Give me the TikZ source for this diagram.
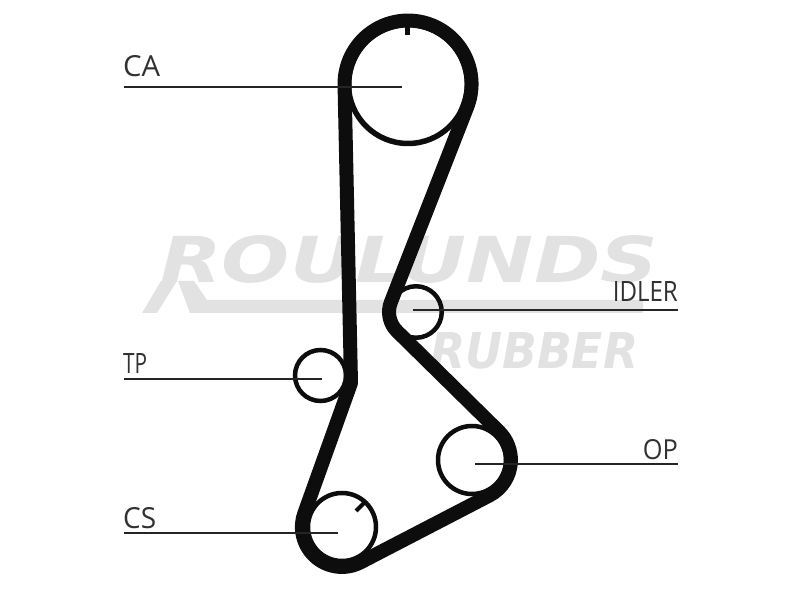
\documentclass[tikz,border=0pt]{standalone}
\usepackage{fontspec}
\setmainfont{Open Sans}
\newfontfamily\logofont{DejaVu Sans}
\usepackage{tikz}
\usetikzlibrary{positioning}
\definecolor{logogray}{gray}{0.885}
\definecolor{beltblack}{gray}{0.05}
\newcommand{\tagtext}[3]{\resizebox{#1pt}{#2pt}{#3}}
\tikzstyle{pulley} = [circle, line width=4.5pt, draw=beltblack, inner sep=0pt, outer sep=0pt]
\tikzstyle{belt} = [line width=14pt, draw=beltblack, line join=round]
\tikzstyle{leader} = [line width=2.2pt, draw=beltblack!90]
\tikzstyle{tag} = [font=\fontsize{21}{21}\selectfont, text=beltblack!85, inner sep=0pt]
\tikzstyle{logo} = [text=logogray, inner sep=0pt, font=\logofont\bfseries\itshape]

\begin{document}
\begin{tikzpicture}[x=1pt, y=1pt]
	\useasboundingbox (0,0) rectangle (800,600);
	% watermark
	\node (Rowlunds) [logo, anchor=south west] at (160,316) {\resizebox{498pt}{47pt}{ROULUNDS}};
	\node (Rubber) [logo, anchor=south west] at (430,231) {\resizebox{208pt}{36pt}{RUBBER}};
	\fill[logogray] (161,319) -- (177,319) -- (157,287) -- (142,287) -- cycle;
	\fill[logogray] (178,319) -- (194,319) -- (207,300) -- (643,300) -- (643,287) -- (190,287) -- cycle;
	% pulleys
	\node (CApulley) [pulley, line width=5.5pt, minimum size=119pt] at (408,516) {};
	\node (TPpulley) [pulley, minimum size=51pt] at (320.5,224.5) {};
	\node (IDpulley) [pulley, minimum size=51.5pt] at (416,288) {};
	\node (OPpulley) [pulley, minimum size=68pt] at (472,140) {};
	\node (CSpulley) [pulley, minimum size=68pt] at (342,73) {};
	% timing marks
	\coordinate (CAmarkA) at (407,578);
	\coordinate (CAmarkB) at (407,565);
	\coordinate (CSmarkA) at (364,97);
	\coordinate (CSmarkB) at (356,89);
	\draw[line width=5pt, draw=beltblack] (CAmarkA) -- (CAmarkB);
	\draw[line width=4pt, draw=beltblack] (CSmarkA) -- (CSmarkB);
	% belt
	\draw[belt] (467.1,492.7) arc[start angle=-21.5, end angle=180, radius=63.5]
		-- (351,217) -- (304.3,86.6)
		arc[start angle=160.2, end angle=297.5, radius=40]
		-- (489.4,104.5)
		arc[start angle=-62.5, end angle=45.5, radius=40]
		-- (397.1,268.7)
		arc[start angle=225.5, end angle=158.5, radius=27]
		-- cycle;
	% labels
	\node (CA) [tag, anchor=base west] at (123,523) {\tagtext{37}{21}{CA}};
	\node (TP) [tag, anchor=base west] at (123,226) {\tagtext{24}{20}{TP}};
	\node (CS) [tag, anchor=base west] at (123,72) {\tagtext{33}{21}{CS}};
	\node (IDLER) [tag, anchor=base east] at (678,298) {\tagtext{65}{20}{IDLER}};
	\node (OP) [tag, anchor=base east] at (678,141) {\tagtext{35}{20}{OP}};
	% leaders
	\coordinate (CAa) at (124,513);
	\coordinate (CAb) at (402,513);
	\coordinate (TPa) at (124,221);
	\coordinate (TPb) at (322,221);
	\coordinate (CSa) at (124,67);
	\coordinate (CSb) at (338,67);
	\coordinate (IDa) at (678,290);
	\coordinate (IDb) at (413,290);
	\coordinate (OPa) at (678,136);
	\coordinate (OPb) at (475,136);
	\draw[leader] (CAa) -- (CAb);
	\draw[leader] (TPa) -- (TPb);
	\draw[leader] (CSa) -- (CSb);
	\draw[leader] (IDa) -- (IDb);
	\draw[leader] (OPa) -- (OPb);
\end{tikzpicture}
\end{document}
